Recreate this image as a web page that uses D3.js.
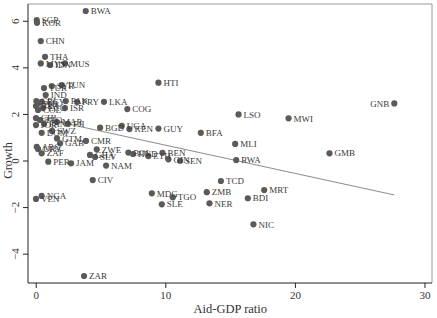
<!DOCTYPE html>
<html>
<head>
<meta charset="utf-8">
<script src="https://cdn.jsdelivr.net/npm/d3@7"></script>
<style>
  body { margin: 0; background: #fff; }
</style>
</head>
<body>
<svg id="chart" width="437" height="318"></svg>
<script>
"use strict";

// country codes, aid-GDP ratio, growth
var codes = ["BWA","SGP","KOR","CHN","THA","MYS","IDN","MUS","TUN","SYR","TUR","IND",
  "PAK","PRY","LKA","ISR","COG","CRI","PHL","EGY","BRA","COL","ECU","HTI","LSO","MWI",
  "GNB","BFA","GUY","BGD","UGA","KEN","MLI","RWA","GMB","BEN","BOL","HND","ETH","GIN",
  "SEN","TCD","ZMB","MRT","BDI","NER","NIC","MDG","TGO","SLE","CMR","ZWE","GHA","SLV",
  "NAM","JAM","PER","CIV","NGA","VEN","ZAR","ARG","ZAF","URY","GTM","GAB","DOM","SWZ",
  "CHL","TTO","MAR","PAN","JOR","FJI"];
var aid = [3.86,0.08,0.10,0.39,0.72,0.39,1.10,2.26,2.01,1.24,0.64,0.77,
  2.32,3.19,5.27,2.26,7.07,0.05,0.20,0.46,0.02,0.18,0.56,9.47,15.65,19.51,
  27.67,12.74,9.47,4.97,6.64,7.23,15.39,15.47,22.67,9.78,7.15,7.51,8.69,10.24,
  11.14,14.29,13.20,17.63,16.37,13.41,16.80,8.96,10.58,9.73,3.88,4.71,4.19,4.58,
  5.43,2.73,0.97,4.40,0.46,0.02,3.73,0.08,0.46,0.18,1.64,1.88,0.46,1.26,
  0.02,0.33,1.64,0.64,0.02,2.49];
var growth = [6.42,6.03,5.91,5.13,4.45,4.17,4.10,4.17,3.24,3.20,3.11,2.81,
  2.55,2.51,2.52,2.25,2.21,2.55,2.45,2.52,2.34,2.17,2.25,3.34,1.98,1.81,
  2.45,1.19,1.37,1.41,1.49,1.35,0.71,0.02,0.31,0.33,0.34,0.28,0.19,0.05,
  -0.01,-0.88,-1.36,-1.27,-1.62,-1.84,-2.74,-1.41,-1.58,-1.88,0.84,0.48,0.24,0.15,
  -0.22,-0.12,-0.05,-0.84,-1.52,-1.65,-4.96,0.59,0.31,0.49,0.95,0.74,1.19,1.27,
  1.82,1.74,1.65,1.57,1.52,1.57];
var leftLabels = ["GNB"];

// fitted line endpoints
var fitX = [0, 27.67];
var fitY = [1.87, -1.48];

var xTicks = [0, 10, 20, 30];
var yTicks = [-4, -2, 0, 2, 4, 6];

var serif = "Liberation Serif";

var svg = d3.select("#chart");
var margin = {top: 4, right: 5, bottom: 35, left: 28};
var width = 437 - margin.left - margin.right;
var height = 318 - margin.top - margin.bottom;

var x = d3.scaleLinear().domain([-0.595, 30.58]).range([0, width]);
var y = d3.scaleLinear().domain([-5.26, 6.72]).range([height, 0]);

var g = svg.append("g")
  .attr("transform", "translate(" + margin.left + "," + margin.top + ")");

// top / right frame in gray
g.append("path")
  .attr("d", "M0,0H" + width + "V" + height)
  .style("fill", "none")
  .style("stroke", "#9a9a9a")
  .style("stroke-width", 1);

var xAxis = g.append("g")
  .attr("transform", "translate(0," + height + ")")
  .call(d3.axisBottom(x).tickValues(xTicks).tickSize(5).tickSizeOuter(0).tickPadding(3));
xAxis.attr("font-family", null).attr("font-size", null);
xAxis.select(".domain").attr("d", "M0,0H" + width);
xAxis.selectAll("text")
  .attr("font-family", serif)
  .style("font-size", "11px").style("fill", "#333");
xAxis.selectAll("line, .domain").style("stroke", "#222");

var yAxis = g.append("g")
  .call(d3.axisLeft(y).tickValues(yTicks).tickSize(5).tickSizeOuter(0));
yAxis.attr("font-family", null).attr("font-size", null);
yAxis.select(".domain").attr("d", "M0,0V" + height);
yAxis.selectAll("line, .domain").style("stroke", "#222");
yAxis.selectAll("text")
  .attr("x", null).attr("dy", null)
  .attr("text-anchor", "middle")
  .attr("transform", "translate(-9,0) rotate(-90)")
  .attr("font-family", serif)
  .style("font-size", "11px")
  .style("fill", "#333");

g.append("text")
  .text("Aid-GDP ratio")
  .attr("x", x(10) + 65)
  .attr("y", height + 30)
  .attr("text-anchor", "middle")
  .attr("font-family", serif)
  .style("font-size", "12.5px")
  .style("fill", "#333");

g.append("text")
  .text("Growth")
  .attr("transform", "translate(-16," + y(0) + ") rotate(-90)")
  .attr("text-anchor", "middle")
  .attr("font-family", serif)
  .style("font-size", "12px")
  .style("fill", "#333");

// fitted line
g.append("line")
  .attr("x1", x(fitX[0])).attr("y1", y(fitY[0]))
  .attr("x2", x(fitX[1])).attr("y2", y(fitY[1]))
  .style("stroke", "#8c8c8c")
  .style("stroke-width", 1);

var pts = codes.map(function (c, i) {
  return {code: c, aid: aid[i], growth: growth[i]};
});

g.selectAll("circle.pt")
  .data(pts)
  .enter().append("circle")
  .attr("class", "pt")
  .attr("cx", function (d) { return x(d.aid); })
  .attr("cy", function (d) { return y(d.growth); })
  .attr("r", 3.1)
  .style("fill", "#5a5a5a");

g.selectAll("text.lab")
  .data(pts)
  .enter().append("text")
  .attr("class", "lab")
  .text(function (d) { return d.code; })
  .attr("x", function (d) {
    return leftLabels.indexOf(d.code) >= 0 ? x(d.aid) - 5 : x(d.aid) + 5;
  })
  .attr("y", function (d) { return y(d.growth) + 3.2; })
  .attr("text-anchor", function (d) {
    return leftLabels.indexOf(d.code) >= 0 ? "end" : "start";
  })
  .attr("font-family", serif)
  .style("font-size", "9px")
  .style("fill", "#3a3a3a");
</script>
</body>
</html>
